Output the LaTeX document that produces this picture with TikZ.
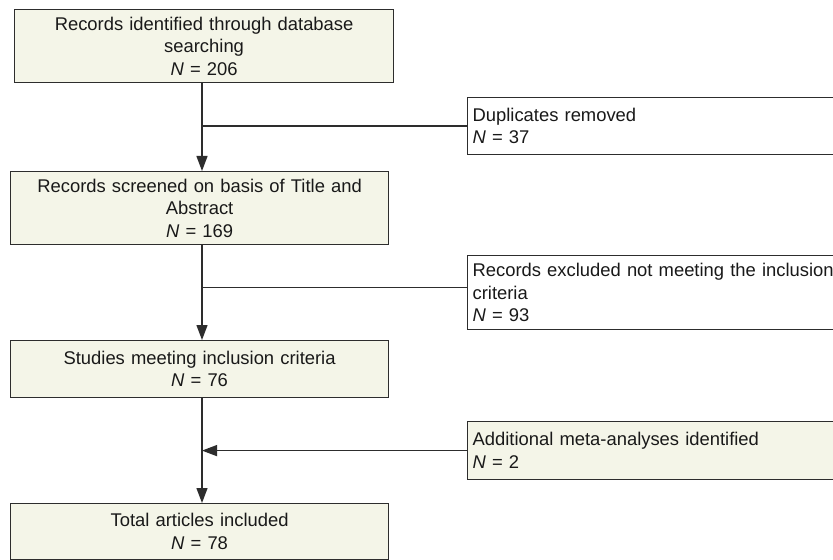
\documentclass[tikz,border=0pt]{standalone}
\usepackage{fontspec}
\setmainfont{Liberation Sans}
\usetikzlibrary{arrows.meta}
\definecolor{boxfill}{RGB}{244,245,232}
\definecolor{edge}{RGB}{45,45,45}
\begin{document}
\begin{tikzpicture}[x=1bp,y=-1bp,
  every node/.style={font=\fontsize{18.4bp}{22.6bp}\selectfont, text=black!90},
  mainbox/.style={draw=edge, line width=1.2bp, fill=boxfill, anchor=north west, inner sep=0pt, align=center},
  sidebox/.style={draw=edge, line width=1.2bp, anchor=north west, inner xsep=5bp, inner ysep=0pt, align=left, text width=390bp, minimum width=400bp},
  conn/.style={draw=edge, line width=1.3bp},
  arr/.style={conn, -{Triangle[length=15bp,width=11bp]}}
]
\clip (0,0) rectangle (833,560);
\fill[white] (0,0) rectangle (833,560);
\coordinate (colx) at (202,0);

\node[mainbox, minimum width=379bp, minimum height=73bp, text width=379bp] (b1) at (14,9)
  {Records identified through database\\searching\\\textit{N} = 206};
\node[mainbox, minimum width=378bp, minimum height=73bp, text width=378bp] (b2) at (10,171)
  {Records screened on basis of Title and\\Abstract\\\textit{N} = 169};
\node[mainbox, minimum width=378bp, minimum height=57bp, text width=378bp] (b3) at (10,340)
  {Studies meeting inclusion criteria\\\textit{N} = 76};
\node[mainbox, minimum width=378bp, minimum height=56bp, text width=378bp] (b4) at (10,503)
  {Total articles included\\\textit{N} = 78};

\node[sidebox, fill=white, minimum height=57bp] (dup) at (467,97)
  {Duplicates removed\\\textit{N} = 37};
\node[sidebox, fill=white, minimum height=74bp] (exc) at (467,255)
  {Records excluded not meeting the inclusion\\criteria\\\textit{N} = 93};
\node[sidebox, fill=boxfill, minimum height=58bp] (add) at (467,421)
  {Additional meta-analyses identified\\\textit{N} = 2};

\draw[arr] (b1.south -| colx) -- (b2.north -| colx);
\draw[arr] (b2.south -| colx) -- (b3.north -| colx);
\draw[arr] (b3.south -| colx) -- (b4.north -| colx);
\draw[conn] (dup.west) -- (dup.west -| colx);
\draw[conn] ([yshift=5bp]exc.west) -- ([yshift=5bp]exc.west -| colx);
\draw[arr] (add.west) -- (add.west -| colx);
\end{tikzpicture}
\end{document}
